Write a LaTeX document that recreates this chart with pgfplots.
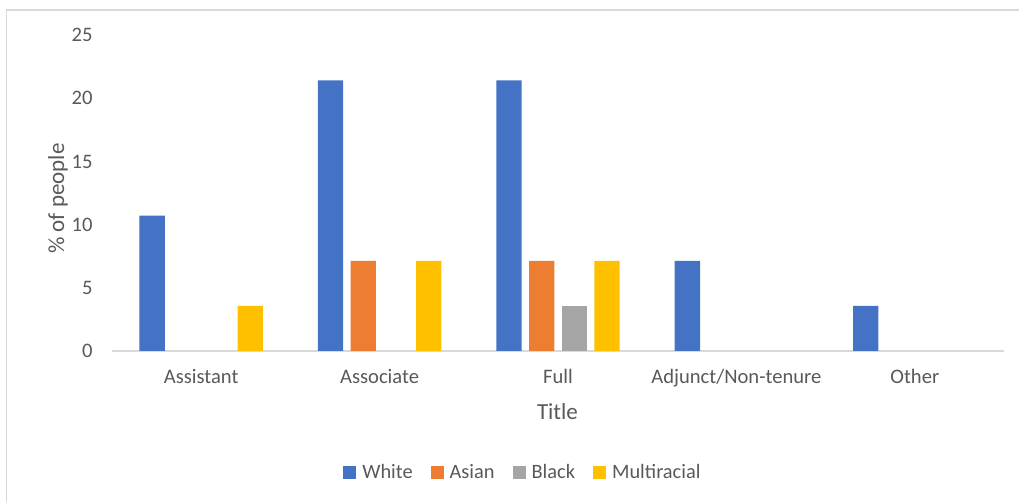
\documentclass[border=0pt]{standalone}
\usepackage{pgfplots}
\pgfplotsset{compat=1.18}
\usepackage{fontspec}
\setmainfont{Carlito}
\definecolor{cW}{HTML}{4472C4}
\definecolor{cA}{HTML}{ED7D31}
\definecolor{cB}{HTML}{A5A5A5}
\definecolor{cM}{HTML}{FFC000}
\definecolor{txt}{HTML}{595959}
\definecolor{frm}{HTML}{D9D9D9}
\begin{document}
\begin{tikzpicture}
\useasboundingbox (0,0) rectangle (509.5pt,251pt);
\draw[color=frm, line width=0.75pt] (3.35pt,-10pt) rectangle (520pt,246pt);
\begin{axis}[
  at={(56pt,75.5pt)}, anchor=south west,
  scale only axis, width=446pt, height=157.9pt,
  xmin=-0.5, xmax=4.5, ymin=0, ymax=25,
  ybar=3.7pt, bar width=12.65pt,
  xtick={0,1,2,3,4},
  xticklabels={Assistant,Associate,Full,Adjunct/Non-tenure,Other},
  ytick={0,5,10,15,20,25},
  major tick length=0pt,
  axis x line*=bottom,
  x axis line style={draw=frm, line width=1pt, -},
  y axis line style={draw=none},
  /pgf/number format/assume math mode=true,
  tick label style={font=\fontsize{10.3}{12}\selectfont, text=txt},
  yticklabel style={inner sep=0pt, xshift=-9.5pt},
  xticklabel style={anchor=base, inner sep=0pt, yshift=-16.5pt},
  xlabel={Title},
  xlabel style={at={(axis description cs:0.4994,-0.1924)}, anchor=center, font=\fontsize{11.5}{13}\selectfont, text=txt},
  ylabel={\% of people},
  ylabel style={at={(axis description cs:-0.0605,0.4826)}, anchor=center, font=\fontsize{11.5}{13}\selectfont, text=txt},
  legend columns=4,
  legend style={at={(0.4618,-0.385)}, anchor=center, draw=none, fill=none,
    font=\fontsize{10.2}{12}\selectfont, text=txt,
    /tikz/every even column/.append style={column sep=7pt},
    /tikz/every odd column/.append style={column sep=1pt}},
  legend image code/.code={\fill[#1] (0pt,-3.25pt) rectangle (6.5pt,3.25pt);},
]
\addplot[draw=none, fill=cW] coordinates {(0,10.71) (1,21.43) (2,21.43) (3,7.14) (4,3.57)};
\addplot[draw=none, fill=cA] coordinates {(1,7.14) (2,7.14)};
\addplot[draw=none, fill=cB] coordinates {(2,3.57)};
\addplot[draw=none, fill=cM] coordinates {(0,3.57) (1,7.14) (2,7.14)};
\legend{White,Asian,Black,Multiracial}
\end{axis}
\end{tikzpicture}
\end{document}
